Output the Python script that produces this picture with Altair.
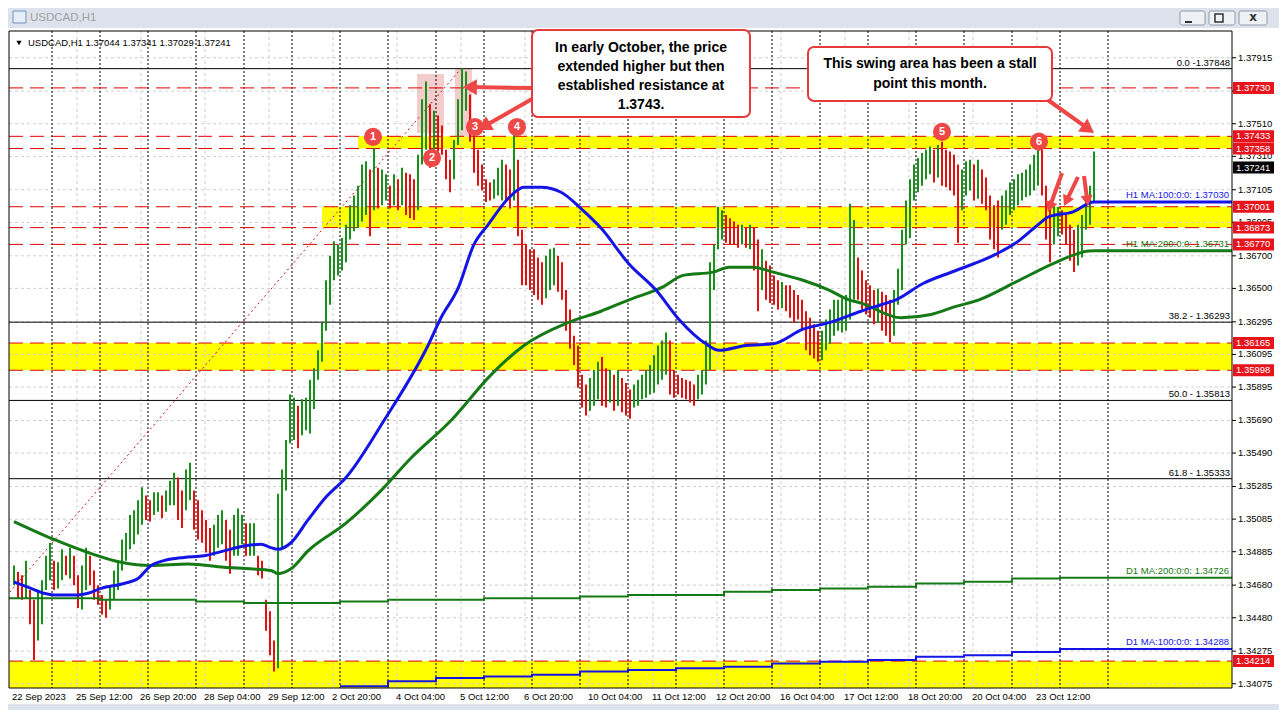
import altair as alt
import pandas as pd
import math

# ---------------- data ----------------
# hourly bars grouped in pairs (column c covers bars 2c, 2c+1)
col_high = [
1.3480,1.3476,1.3474,1.3483,1.3465,1.3459,1.3465,1.3471,1.3486,1.3494,
1.3483,1.3482,1.3490,1.3486,1.3491,1.3486,1.3474,1.3480,1.3491,1.3486,
1.3477,1.3468,1.3462,1.3459,1.3468,1.3477,1.3483,1.3496,1.3500,1.3511,
1.3514,1.3520,1.3528,1.3523,1.3520,1.3525,1.3525,1.3523,1.3526,1.3532,
1.3537,1.3534,1.3526,1.3539,1.3543,1.3526,1.3520,1.3514,1.3508,1.3503,
1.3505,1.3511,1.3514,1.3508,1.3502,1.3511,1.3515,1.3511,1.3506,1.3506,
1.3506,1.3486,1.3483,1.3459,1.3452,1.3434,1.3524,1.3539,1.3557,1.3585,
1.3583,1.3578,1.3582,1.3583,1.3594,1.3601,1.3612,1.3629,1.3655,1.3670,
1.3679,1.3677,1.3681,1.3689,1.3701,1.3707,1.3713,1.3726,1.3728,1.3723,
1.3736,1.3724,1.3723,1.3720,1.3713,1.3720,1.3717,1.3724,1.3721,1.3720,
1.3717,1.3732,1.3766,1.3777,1.3763,1.3759,1.3756,1.3750,1.3735,1.3729,
1.3741,1.3766,1.3785,1.3783,1.3769,1.3747,1.3735,1.3726,1.3717,1.3715,
1.3717,1.3724,1.3729,1.3726,1.3723,1.3746,1.3729,1.3686,1.3677,1.3674,
1.3674,1.3669,1.3666,1.3670,1.3674,1.3675,1.3670,1.3666,1.3649,1.3637,
1.3621,1.3615,1.3597,1.3591,1.3595,1.3600,1.3605,1.3608,1.3601,1.3600,
1.3597,1.3600,1.3595,1.3592,1.3588,1.3591,1.3594,1.3597,1.3600,1.3603,
1.3609,1.3615,1.3618,1.3623,1.3618,1.3600,1.3597,1.3595,1.3594,1.3593,
1.3591,1.3597,1.3600,1.3618,1.3666,1.3677,1.3700,1.3698,1.3695,1.3693,
1.3691,1.3689,1.3689,1.3687,1.3689,1.3687,1.3680,1.3674,1.3667,1.3664,
1.3658,1.3655,1.3654,1.3652,1.3652,1.3649,1.3646,1.3643,1.3636,1.3632,
1.3628,1.3624,1.3624,1.3631,1.3637,1.3643,1.3643,1.3644,1.3646,1.3702,
1.3692,1.3669,1.3661,1.3655,1.3652,1.3649,1.3650,1.3648,1.3646,1.3643,
1.3649,1.3662,1.3686,1.3704,1.3717,1.3726,1.3730,1.3733,1.3735,1.3737,
1.3735,1.3738,1.3740,1.3735,1.3734,1.3732,1.3726,1.3723,1.3728,1.3729,
1.3726,1.3729,1.3723,1.3718,1.3707,1.3701,1.3704,1.3707,1.3710,1.3715,
1.3717,1.3720,1.3721,1.3723,1.3726,1.3732,1.3736,1.3735,1.3713,1.3704,
1.3701,1.3700,1.3698,1.3695,1.3689,1.3686,1.3689,1.3695,1.3707,1.3713,1.3734]
col_low = [
1.3468,1.3460,1.3459,1.3460,1.3444,1.3422,1.3434,1.3444,1.3465,1.3471,
1.3465,1.3466,1.3471,1.3474,1.3472,1.3468,1.3454,1.3453,1.3465,1.3468,
1.3459,1.3456,1.3450,1.3448,1.3453,1.3459,1.3465,1.3477,1.3483,1.3490,
1.3493,1.3499,1.3505,1.3508,1.3507,1.3511,1.3513,1.3509,1.3513,1.3517,
1.3517,1.3508,1.3503,1.3514,1.3520,1.3502,1.3496,1.3494,1.3488,1.3483,
1.3486,1.3491,1.3493,1.3483,1.3475,1.3486,1.3486,1.3493,1.3486,1.3486,
1.3486,1.3474,1.3472,1.3440,1.3425,1.3415,1.3417,1.3491,1.3526,1.3555,
1.3557,1.3552,1.3560,1.3563,1.3561,1.3576,1.3594,1.3605,1.3624,1.3640,
1.3655,1.3658,1.3661,1.3666,1.3680,1.3685,1.3687,1.3691,1.3695,1.3682,
1.3698,1.3699,1.3701,1.3704,1.3699,1.3701,1.3698,1.3701,1.3695,1.3693,
1.3692,1.3698,1.3726,1.3735,1.3724,1.3735,1.3734,1.3732,1.3717,1.3709,
1.3717,1.3738,1.3747,1.3759,1.3740,1.3721,1.3713,1.3710,1.3703,1.3704,
1.3705,1.3707,1.3704,1.3703,1.3699,1.3704,1.3682,1.3652,1.3652,1.3649,
1.3646,1.3643,1.3640,1.3644,1.3649,1.3652,1.3648,1.3643,1.3624,1.3613,
1.3603,1.3589,1.3577,1.3572,1.3575,1.3578,1.3582,1.3578,1.3577,1.3580,
1.3575,1.3578,1.3574,1.3572,1.3570,1.3577,1.3578,1.3582,1.3583,1.3585,
1.3586,1.3591,1.3594,1.3597,1.3585,1.3583,1.3585,1.3583,1.3582,1.3580,
1.3578,1.3582,1.3585,1.3591,1.3600,1.3649,1.3674,1.3680,1.3678,1.3677,
1.3677,1.3675,1.3677,1.3675,1.3674,1.3661,1.3636,1.3649,1.3643,1.3641,
1.3640,1.3637,1.3638,1.3636,1.3632,1.3629,1.3631,1.3624,1.3612,1.3609,
1.3607,1.3605,1.3606,1.3612,1.3616,1.3621,1.3624,1.3623,1.3624,1.3631,
1.3643,1.3643,1.3637,1.3634,1.3632,1.3628,1.3629,1.3624,1.3621,1.3617,
1.3621,1.3640,1.3649,1.3677,1.3681,1.3704,1.3709,1.3713,1.3717,1.3720,
1.3715,1.3718,1.3713,1.3712,1.3710,1.3707,1.3678,1.3698,1.3707,1.3710,
1.3704,1.3705,1.3702,1.3698,1.3680,1.3674,1.3669,1.3686,1.3689,1.3695,
1.3698,1.3701,1.3704,1.3706,1.3707,1.3710,1.3713,1.3707,1.3680,1.3666,
1.3677,1.3682,1.3683,1.3677,1.3667,1.3660,1.3664,1.3669,1.3686,1.3689,1.3703]

# H1 moving averages (bar index, price)
ma100_bar = [0.5,9,15.5,20.5,32.5,37.5,44,55.5,62.5,69,75.5,85.5,95.5,105.5,115.5,124,129,132.5,139,147.5,156.5,166.5,185.5,207.5,214,222.5,230.5,237.5,247.5,255.5,264,274,284,294,308,321.5,333,346.5,353,366.5,380,395,408,424,434,441.5,455,471.5,491.5,501.5,511.5,518,530,540.5,609.5]
ma100_val = [1.3470,1.3466,1.3463,1.3462,1.3462,1.3463,1.3466,1.3469,1.3472,1.3480,1.3483,1.3485,1.3486,1.3489,1.3492,1.3493,1.3491,1.3490,1.3494,1.3508,1.3522,1.3534,1.3569,1.3615,1.3632,1.3650,1.3677,1.3689,1.3705,1.3712,1.3712,1.3709,1.3699,1.3687,1.3665,1.3649,1.3631,1.3616,1.3612,1.3615,1.3616,1.3625,1.3629,1.3636,1.3640,1.3643,1.3653,1.3661,1.3671,1.3678,1.3688,1.3694,1.3697,1.37030,1.37030]
ma200_bar = [0.5,20.5,37.5,54,69,87.5,105.5,119,129,132.5,139,147.5,166.5,184,199,219,239,255.5,277.5,294,308,325,335,350,358,370,380,395,408,418,424,444,459,471.5,483,501.5,521.5,538,540.5,609.5]
ma200_val = [1.3507,1.3496,1.3488,1.3482,1.3480,1.3481,1.3479,1.3478,1.3477,1.3475,1.3478,1.3489,1.3506,1.3526,1.3546,1.3569,1.3597,1.3615,1.3629,1.3636,1.3643,1.3651,1.3658,1.3660,1.3663,1.3663,1.3660,1.3655,1.3649,1.3643,1.3641,1.3632,1.3634,1.3639,1.3643,1.3654,1.3666,1.3673,1.36731,1.36731]
# D1 moving averages, one value per trading day
d1_200_bar = [-2,19.5,43.5,67.5,91.5,115.5,139.5,163.5,187.5,211.5,235.5,259.5,283.5,307.5,331.5,355.5,379.5,403.5,427.5,451.5,475.5,499.5,523.5,609.5]
d1_200_val = [1.3460,1.3460,1.3459,1.3459,1.3458,1.3457,1.3457,1.3458,1.3459,1.3459,1.3460,1.3460,1.3461,1.3462,1.3462,1.3464,1.3465,1.3466,1.3467,1.3469,1.3470,1.3472,1.34726,1.34726]
d1_100_bar = [163.5,187.5,211.5,235.5,259.5,283.5,307.5,331.5,355.5,379.5,403.5,427.5,451.5,475.5,499.5,523.5,609.5]
d1_100_val = [1.3406,1.3409,1.3411,1.3412,1.3413,1.3415,1.3416,1.3417,1.3418,1.3420,1.3421,1.3422,1.3424,1.3425,1.3427,1.34288,1.34288]

tick_prices = [1.37915,1.37710,1.37510,1.37310,1.37105,1.36905,1.36700,1.36500,1.36295,1.36095,
               1.35895,1.35690,1.35490,1.35285,1.35085,1.34885,1.34680,1.34480,1.34275,1.34075]
time_labels = ["22 Sep 2023","25 Sep 12:00","26 Sep 20:00","28 Sep 04:00","29 Sep 12:00","2 Oct 20:00",
               "4 Oct 04:00","5 Oct 12:00","6 Oct 20:00","10 Oct 04:00","11 Oct 12:00","12 Oct 20:00",
               "16 Oct 04:00","17 Oct 12:00","18 Oct 20:00","20 Oct 04:00","23 Oct 12:00"]
time_label_bars = [0,32,64,96,128,160,192,224,256,288,320,352,384,416,448,480,512]
day_sep_bars = [19.5,43.5,67.5,91.5,115.5,139.5,163.5,187.5,211.5,235.5,259.5,283.5,307.5,331.5,355.5,
                379.5,403.5,427.5,451.5,475.5,499.5,523.5,547.5]

sr_levels = [1.37730,1.37433,1.37358,1.37001,1.36873,1.36770,1.36165,1.35998,1.34214]
last_price = 1.37241
fib_levels = [1.37848,1.36293,1.35813,1.35333]
fib_names = ["0.0 -1.37848","38.2 - 1.36293","50.0 - 1.35813","61.8 - 1.35333"]
fib_anchor_bar = [-62,224]
fib_anchor_price = [1.33778,1.37848]

zone_start = [172.5,154.5,-2,-2]
zone_lo = [1.37358,1.36873,1.35998,1.34049]
zone_hi = [1.37433,1.37001,1.36165,1.34214]

pink_x1 = [202,221]
pink_x2 = [215.5,229.5]
pink_lo = [1.37453,1.37430]
pink_hi = [1.37815,1.37852]

marker_labels = ["1","2","3","4","5","6"]
marker_bar = [180,209.5,231,252,464.5,513]
marker_price = [1.37430,1.37300,1.37490,1.37490,1.37460,1.37400]

ma_label_price = [1.37030,1.36731,1.34726,1.34288]
ma_label_text = ["H1 MA:100:0:0: 1.37030","H1 MA:200:0:0: 1.36731","D1 MA:200:0:0: 1.34726","D1 MA:100:0:0: 1.34288"]

box1_lines = ["In early October, the price","extended higher but then","established resistance at","1.3743."]
box2_lines = ["This swing area has been a stall","point this month."]
header_text = "USDCAD,H1  1.37044 1.37341 1.37029 1.37241"
title_text = "USDCAD,H1"

# ---------------- layout ----------------
W, H = 1223, 657
XMIN, XMAX = -2.0, 609.5
YMIN, YMAX = 1.34049, 1.38079
PX0, PY0 = 9, 31  # page position of the plot corner

def bx(px):
    return XMIN + (px - PX0) * (XMAX - XMIN) / W

def pr(py):
    return YMAX - (py - PY0) * (YMAX - YMIN) / H

xs = alt.Scale(domain=[XMIN, XMAX], nice=False, zero=False)
ys = alt.Scale(domain=[YMIN, YMAX], nice=False, zero=False)

def X(f):
    return alt.X(f, type="quantitative", scale=xs, axis=None)

def Y(f):
    return alt.Y(f, type="quantitative", scale=ys, axis=None)

def C(f):
    return alt.Color(f, type="nominal", scale=None, legend=None)

FONT = "Liberation Sans"
GREEN_BAR = "#17901c"
RED_BAR = "#e31010"
BLUE = "#1414e6"
GREEN = "#157a15"
ANN = "#ee4747"

one = pd.DataFrame({"a": [1]})
layers = []

# window chrome strips
chrome = pd.DataFrame({"x1": [bx(8), bx(8)], "x2": [bx(1279), bx(1279)],
                       "y1": [pr(8), pr(704)], "y2": [pr(28), pr(710)]})
layers.append(alt.Chart(chrome).mark_rect(color="#dce3ec").encode(
    x=X("x1"), x2="x2", y=Y("y1"), y2="y2"))

# yellow zones
zones = pd.DataFrame({"s": zone_start, "e": [XMAX] * 4, "lo": zone_lo, "hi": zone_hi})
layers.append(alt.Chart(zones).mark_rect(color="#ffff00").encode(
    x=X("s"), x2="e", y=Y("lo"), y2="hi"))

# pink rectangles
pink = pd.DataFrame({"x1": pink_x1, "x2": pink_x2, "lo": pink_lo, "hi": pink_hi})
layers.append(alt.Chart(pink).mark_rect(color="#f3c6c6", opacity=0.9).encode(
    x=X("x1"), x2="x2", y=Y("lo"), y2="hi"))

# grid
hg = pd.DataFrame({"p": tick_prices})
layers.append(alt.Chart(hg).mark_rule(color="#cfcfcf", strokeDash=[3, 3], strokeWidth=1).encode(
    y=Y("p"), x=alt.value(0), x2=alt.value(W)))
vg = pd.DataFrame({"b": time_label_bars[1:]})
layers.append(alt.Chart(vg).mark_rule(color="#cfcfcf", strokeDash=[3, 3], strokeWidth=1).encode(
    x=X("b"), y=alt.value(0), y2=alt.value(H)))
sep = pd.DataFrame({"b": day_sep_bars})
layers.append(alt.Chart(sep).mark_rule(color="black", strokeDash=[2, 2], strokeWidth=1).encode(
    x=X("b"), y=alt.value(0), y2=alt.value(H)))

# fib levels and trend line
fib = pd.DataFrame({"p": fib_levels, "t": fib_names})
layers.append(alt.Chart(fib).mark_rule(color="black", strokeWidth=1).encode(
    y=Y("p"), x=alt.value(0), x2=alt.value(W)))
fibt = pd.DataFrame({"b": fib_anchor_bar, "p": fib_anchor_price})
layers.append(alt.Chart(fibt).mark_line(color="#d01010", strokeDash=[2, 3], strokeWidth=1, clip=True).encode(
    x=X("b"), y=Y("p")))

# red dashed S/R lines
sr = pd.DataFrame({"p": sr_levels})
layers.append(alt.Chart(sr).mark_rule(color="#e00000", strokeDash=[14, 7], strokeWidth=1).encode(
    y=Y("p"), x=alt.value(0), x2=alt.value(W)))

# price bars
mids = [(h + l) / 2 for h, l in zip(col_high, col_low)]
dirs = [GREEN_BAR] + [GREEN_BAR if mids[i] >= mids[i - 1] else RED_BAR for i in range(1, len(mids))]
bars = pd.DataFrame({"bar": [2 * i + 0.5 for i in range(len(col_high))],
                     "high": col_high, "low": col_low, "col": dirs})
layers.append(alt.Chart(bars).mark_rule(strokeWidth=2).encode(
    x=X("bar"), y=Y("low"), y2="high", color=C("col")))

# D1 MAs
d1a = pd.DataFrame({"b": d1_200_bar, "p": d1_200_val})
layers.append(alt.Chart(d1a).mark_line(color=GREEN, strokeWidth=2, interpolate="step-after").encode(
    x=X("b"), y=Y("p")))
d1b = pd.DataFrame({"b": d1_100_bar, "p": d1_100_val})
layers.append(alt.Chart(d1b).mark_line(color=BLUE, strokeWidth=2, interpolate="step-after", clip=True).encode(
    x=X("b"), y=Y("p")))

# H1 MAs
m200 = pd.DataFrame({"b": ma200_bar, "p": ma200_val})
layers.append(alt.Chart(m200).mark_line(color=GREEN, strokeWidth=3, interpolate="monotone").encode(
    x=X("b"), y=Y("p")))
m100 = pd.DataFrame({"b": ma100_bar, "p": ma100_val})
layers.append(alt.Chart(m100).mark_line(color=BLUE, strokeWidth=3, interpolate="monotone").encode(
    x=X("b"), y=Y("p")))

# plot border
layers.append(alt.Chart(one).mark_rect(fillOpacity=0, stroke="black", strokeWidth=1).encode(
    x=alt.value(0), x2=alt.value(W), y=alt.value(0), y2=alt.value(H)))

# fib labels
layers.append(alt.Chart(fib).mark_text(align="right", baseline="middle", dy=-6, fontSize=9.5, font=FONT, color="black").encode(
    x=alt.value(W - 2), y=Y("p"), text="t:N"))

# MA labels
ma_lab = pd.DataFrame({"p": ma_label_price, "t": ma_label_text,
                       "c": [BLUE, GREEN, GREEN, BLUE]})
layers.append(alt.Chart(ma_lab).mark_text(align="right", baseline="middle", dy=-7, fontSize=9.5, font=FONT).encode(
    x=alt.value(W - 3), y=Y("p"), text="t:N", color=C("c")))

# right price axis
ticks = pd.DataFrame({"p": tick_prices, "t": [f"{p:.5f}" for p in tick_prices]})
layers.append(alt.Chart(ticks).mark_rule(color="black").encode(
    y=Y("p"), x=alt.value(W), x2=alt.value(W + 4)))
layers.append(alt.Chart(ticks).mark_text(align="left", baseline="middle", fontSize=9.5, font=FONT, color="black").encode(
    x=alt.value(W + 6), y=Y("p"), text="t:N"))

half = 6 * (YMAX - YMIN) / H
lab = pd.DataFrame({"p": sr_levels + [last_price],
                    "t": [f"{p:.5f}" for p in sr_levels + [last_price]],
                    "c": ["#e8141c"] * len(sr_levels) + ["#000000"]})
lab["top"] = lab["p"] + half
lab["bot"] = lab["p"] - half
layers.append(alt.Chart(lab).mark_rect().encode(
    x=alt.value(W + 1), x2=alt.value(W + 42), y=Y("bot"), y2="top", color=C("c")))
layers.append(alt.Chart(lab).mark_text(align="left", baseline="middle", fontSize=9.5, font=FONT, color="white").encode(
    x=alt.value(W + 4), y=Y("p"), text="t:N"))

# time axis labels
tl = pd.DataFrame({"b": time_label_bars, "t": time_labels})
layers.append(alt.Chart(tl).mark_text(align="left", baseline="middle", dx=-1, fontSize=9.5, font=FONT, color="black").encode(
    x=X("b"), y=alt.value(H + 9), text="t:N"))

# header inside the plot
layers.append(alt.Chart(one).mark_point(shape="triangle-down", filled=True, size=28, color="black", opacity=1).encode(
    x=alt.value(10), y=alt.value(12)))
layers.append(alt.Chart(pd.DataFrame({"t": [header_text]})).mark_text(
    align="left", baseline="middle", fontSize=9.5, font=FONT, color="black").encode(
    x=alt.value(19), y=alt.value(12), text="t:N"))

# window title bar
layers.append(alt.Chart(one).mark_rect(fill="#e8eef8", stroke="#7392c0", strokeWidth=1).encode(
    x=alt.value(4), x2=alt.value(17), y=alt.value(-20), y2=alt.value(-8)))
layers.append(alt.Chart(pd.DataFrame({"t": [title_text]})).mark_text(
    align="left", baseline="middle", fontSize=11.5, font=FONT, color="#a2a2a2").encode(
    x=alt.value(21), y=alt.value(-13), text="t:N"))
btn = pd.DataFrame({"x1": [bx(1180), bx(1209), bx(1239)], "x2": [bx(1205), bx(1235), bx(1267)]})
layers.append(alt.Chart(btn).mark_rect(fill="#eef1f5", stroke="#8e98a6", strokeWidth=1, cornerRadius=2).encode(
    x=X("x1"), x2="x2", y=alt.value(-20), y2=alt.value(-6)))
layers.append(alt.Chart(one).mark_rule(color="#333333", strokeWidth=2).encode(
    x=alt.value(1176), x2=alt.value(1183), y=alt.value(-9)))
layers.append(alt.Chart(one).mark_rect(fillOpacity=0, stroke="#333333", strokeWidth=1.5).encode(
    x=alt.value(1206), x2=alt.value(1214), y=alt.value(-17), y2=alt.value(-9)))
layers.append(alt.Chart(pd.DataFrame({"t": ["x"]})).mark_text(
    fontSize=12, font="DejaVu Sans", fontWeight="bold", color="#333333").encode(
    x=alt.value(1244), y=alt.value(-14), text="t:N"))

# numbered markers
mk = pd.DataFrame({"b": marker_bar, "p": marker_price, "t": marker_labels})
layers.append(alt.Chart(mk).mark_point(shape="circle", filled=True, size=330, color=ANN, opacity=1).encode(
    x=X("b"), y=Y("p")))
layers.append(alt.Chart(mk).mark_text(fontSize=11, font=FONT, fontWeight="bold", color="white").encode(
    x=X("b"), y=Y("p"), text="t:N"))

# arrows (page coordinates of tail and tip)
arrows = [
    ((532, 88), (463, 87), 256),
    ((532, 99), (478, 130), 256),
    ((1048, 100), (1094, 133), 256),
    ((1062, 173), (1048, 212), 150),
    ((1078, 177), (1064, 206), 150),
    ((1084, 176), (1088, 206), 150),
]
shafts = []
for (t, tip, size) in arrows:
    dx, dy = tip[0] - t[0], tip[1] - t[1]
    L = math.hypot(dx, dy)
    ux, uy = dx / L, dy / L
    hlen = math.sqrt(3) / 4 * math.sqrt(size)
    cx, cy = tip[0] - hlen * ux, tip[1] - hlen * uy
    ang = math.degrees(math.atan2(dx, -dy)) % 360
    shafts.append({"x1": bx(t[0]), "y1": pr(t[1]), "x2": bx(cx), "y2": pr(cy)})
    layers.append(alt.Chart(pd.DataFrame({"x": [bx(cx)], "y": [pr(cy)]})).mark_point(
        shape="triangle-up", filled=True, size=size, angle=ang, color=ANN, opacity=1).encode(
        x=X("x"), y=Y("y")))
sh = pd.DataFrame(shafts)
layers.append(alt.Chart(sh).mark_rule(color=ANN, strokeWidth=4).encode(
    x=X("x1"), y=Y("y1"), x2="x2", y2="y2"))

# text boxes
boxes = pd.DataFrame({"x1": [bx(532), bx(808)], "x2": [bx(750), bx(1052)],
                      "y1": [pr(30), pr(47)], "y2": [pr(117), pr(101)]})
layers.append(alt.Chart(boxes).mark_rect(fill="white", stroke="#e83a3a", strokeWidth=2, cornerRadius=6).encode(
    x=X("x1"), x2="x2", y=Y("y2"), y2="y1"))
bt = pd.DataFrame({
    "x": [bx(641)] * 4 + [bx(930)] * 2,
    "y": [pr(48), pr(67), pr(86), pr(105), pr(64), pr(84)],
    "t": box1_lines + box2_lines})
layers.append(alt.Chart(bt).mark_text(fontSize=14, font=FONT, fontWeight="bold", color="black").encode(
    x=X("x"), y=Y("y"), text="t:N"))

chart = alt.layer(*layers).properties(
    width=W, height=H,
    padding={"left": 1, "top": 23, "right": 47, "bottom": 22},
    autosize=alt.AutoSizeParams(type="none"),
    background="white",
).configure_view(stroke=None)

chart.save("out.html", embed_options={"renderer": "svg", "actions": False})
